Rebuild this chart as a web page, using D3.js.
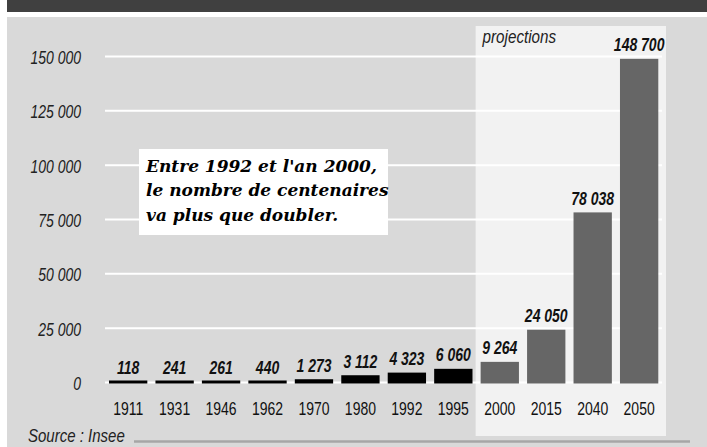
<!DOCTYPE html>
<html>
<head>
<meta charset="utf-8">
<script src="https://cdn.jsdelivr.net/npm/d3@7"></script>
<style>
  body { margin: 0; background: #ffffff; }
  svg { display: block; }
  .cond { font-family: "Liberation Sans", Arial, sans-serif; }
</style>
</head>
<body>
<div id="graph"></div>
<script>
// Data
var years = ["1911", "1931", "1946", "1962", "1970", "1980", "1992", "1995", "2000", "2015", "2040", "2050"];
var centenaires = [118, 241, 261, 440, 1273, 3112, 4323, 6060, 9264, 24050, 78038, 148700];
var projected = [false, false, false, false, false, false, false, false, true, true, true, true];
var y_ticks = [0, 25000, 50000, 75000, 100000, 125000, 150000];
var note_lines = ["Entre 1992 et l'an 2000,", "le nombre de centenaires", "va plus que doubler."];
var source_text = "Source : Insee";
var proj_text = "projections";

var WIDTH = 707;
var HEIGHT = 447;
var NARROW = 0.8;   // horizontal squeeze to fake a condensed face

var fr = d3.formatLocale({decimal: ",", thousands: "\u00a0", grouping: [3], currency: ["", " €"]});
var fmt = fr.format(",d");

// move x/y into a transform so the text can be squeezed horizontally
function condense(sel, sx) {
  sel.each(function() {
    let t = d3.select(this);
    let x = +t.attr("x") || 0;
    let y = +t.attr("y") || 0;
    t.attr("x", 0).attr("y", 0)
     .attr("transform", `translate(${x},${y}) scale(${sx},1)`);
  });
}

var chart = d3.select("#graph")
              .append("svg")
                .attr("width", WIDTH)
                .attr("height", HEIGHT);

// Scales
var xscale = d3.scaleBand()
               .domain(years)
               .range([109, 658.3])
               .paddingInner(0.175)
               .paddingOuter(0);

var yscale = d3.scaleLinear()
               .domain([0, 150000])
               .range([382, 56]);

// Frame: dark header band + grey background
chart.append("rect").attr("x", 7).attr("y", 0).attr("width", WIDTH - 7).attr("height", 12).attr("fill", "#404040");
chart.append("rect").attr("x", 7).attr("y", 17).attr("width", WIDTH - 7).attr("height", HEIGHT - 17).attr("fill", "#d9d9d9");

// Projection panel (light) behind the projected bars
var first_proj = years[projected.indexOf(true)];
chart.append("rect")
     .attr("x", xscale(first_proj) - 5)
     .attr("y", 26)
     .attr("width", 666 - (xscale(first_proj) - 5))
     .attr("height", 410)
     .attr("fill", "#f2f2f2");

chart.append("text")
     .attr("class", "cond")
     .attr("x", xscale(first_proj) + 2)
     .attr("y", 43)
     .attr("font-size", 19)
     .attr("font-style", "italic")
     .attr("fill", "#222")
     .text(proj_text)
     .call(condense, NARROW);

// Gridlines + y tick labels
var y_axis = d3.axisLeft(yscale)
               .tickValues(y_ticks)
               .tickSize(-(662 - 105))
               .tickPadding(24)
               .tickFormat(fmt);

var yAxisElements = chart.append("g")
                         .attr("transform", "translate(105, 0)")
                         .call(y_axis);
yAxisElements.select(".domain").remove();
yAxisElements.selectAll("line").attr("stroke", "#ffffff").attr("stroke-width", 2);
yAxisElements.selectAll("text")
             .attr("class", "cond")
             .attr("font-size", 17.5)
             .attr("font-style", "italic")
             .attr("fill", "#222")
             .attr("dy", "0.42em")
             .call(condense, NARROW);

// Annotation box
chart.append("rect")
     .attr("x", 139).attr("y", 149)
     .attr("width", 249).attr("height", 86)
     .attr("fill", "#ffffff");

chart.append("g")
     .selectAll("text")
     .data(note_lines)
     .join("text")
       .attr("x", 146)
       .attr("y", (d, i) => 171.5 + i * 24.5)
       .attr("font-family", "'DejaVu Serif', serif")
       .attr("font-weight", "bold")
       .attr("font-style", "italic")
       .attr("font-size", 17)
       .attr("fill", "#000")
       .text(d => d);

// Bars
var rows = years.map((y, i) => ({year: y, value: centenaires[i], proj: projected[i]}));

chart.append("g")
     .selectAll("rect")
     .data(rows)
     .join("rect")
       .attr("x", d => xscale(d.year))
       .attr("width", xscale.bandwidth())
       .attr("y", d => Math.min(yscale(d.value), yscale(0) - 1.5))
       .attr("height", d => Math.max(yscale(0) + 1.5 - yscale(d.value), 3))
       .attr("fill", d => d.proj ? "#666666" : "#000000");

// Value labels
chart.append("g")
     .selectAll("text")
     .data(rows)
     .join("text")
       .attr("class", "cond")
       .attr("x", d => xscale(d.year) + xscale.bandwidth() / 2)
       .attr("y", d => yscale(d.value) - 7.5)
       .attr("text-anchor", "middle")
       .attr("font-size", 17.5)
       .attr("font-weight", "bold")
       .attr("font-style", "italic")
       .attr("fill", "#111")
       .text(d => fmt(d.value))
       .call(condense, 0.8);

// X axis (year labels)
var x_axis = d3.axisBottom(xscale).tickSize(0).tickPadding(0);
var xAxisElements = chart.append("g")
                         .attr("transform", "translate(0, 403)")
                         .call(x_axis);
xAxisElements.select(".domain").remove();
xAxisElements.selectAll("text")
             .attr("class", "cond")
             .attr("font-size", 17.5)
             .attr("fill", "#111")
             .call(condense, NARROW);

// Source
chart.append("text")
     .attr("class", "cond")
     .attr("x", 28)
     .attr("y", 442)
     .attr("font-size", 19)
     .attr("font-style", "italic")
     .attr("fill", "#222")
     .text(source_text)
     .call(condense, 0.79);

chart.append("line")
     .attr("x1", 134).attr("x2", 690)
     .attr("y1", 441.5).attr("y2", 441.5)
     .attr("stroke", "#a6a6a6")
     .attr("stroke-width", 2.5);
</script>
</body>
</html>
